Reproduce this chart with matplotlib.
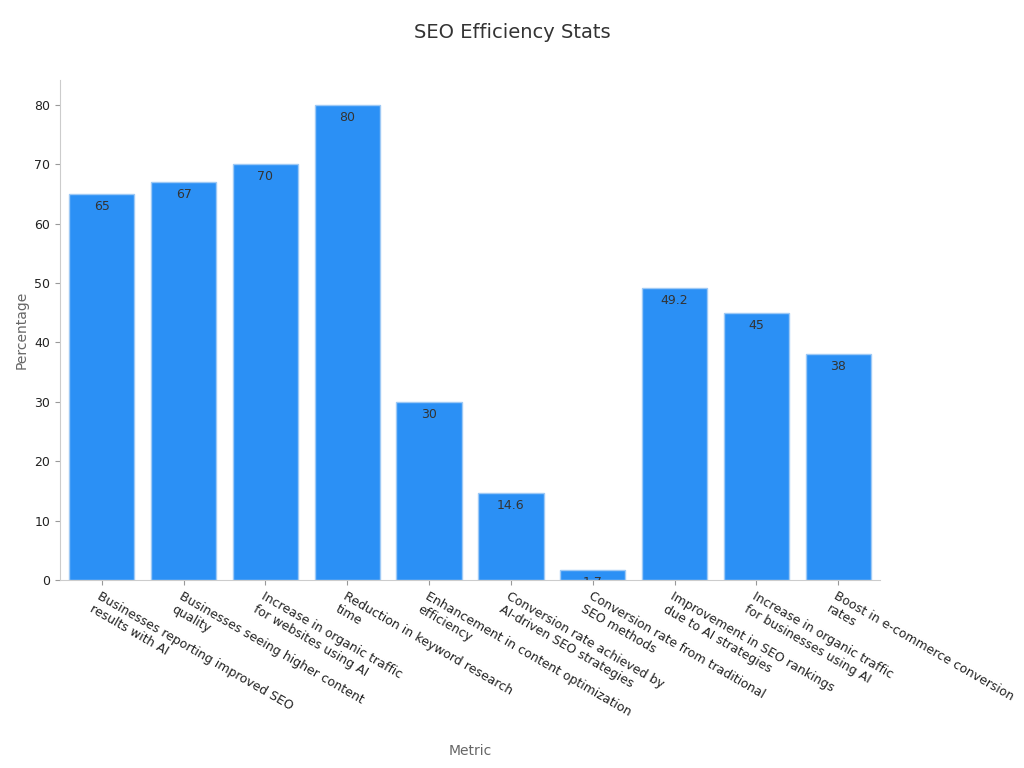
import matplotlib.pyplot as plt
import numpy as np

metrics = [
    "Businesses reporting improved SEO\nresults with AI",
    "Businesses seeing higher content\nquality",
    "Increase in organic traffic\nfor websites using AI",
    "Reduction in keyword research\ntime",
    "Enhancement in content optimization\nefficiency",
    "Conversion rate achieved by\nAI-driven SEO strategies",
    "Conversion rate from traditional\nSEO methods",
    "Improvement in SEO rankings\ndue to AI strategies",
    "Increase in organic traffic\nfor businesses using AI",
    "Boost in e-commerce conversion\nrates",
]
percentages = [65, 67, 70, 80, 30, 14.6, 1.7, 49.2, 45, 38]
value_labels = ["65", "67", "70", "80", "30", "14.6", "1.7", "49.2", "45", "38"]

fig = plt.figure(figsize=(10.24, 7.68), dpi=100)
ax = fig.add_axes([60 / 1024, 1 - 580 / 768, 820 / 1024, 500 / 768])

x = np.arange(len(metrics))
ax.bar(x, percentages, 0.8, color="#2b90f5", edgecolor="#9ec9f5", linewidth=1)
for xi, v, lab in zip(x, percentages, value_labels):
    ax.text(xi, v - 1.0, lab, ha="center", va="top", fontsize=9, color="#333333", clip_on=True)

ax.set_xlim(-0.51, 9.51)
ax.set_ylim(0, 84.2)
ax.set_yticks(range(0, 81, 10))
ax.set_xticks(x)
ax.set_xticklabels(metrics, rotation=-30, ha="left", rotation_mode="anchor", fontsize=9, color="#222222")
ax.tick_params(axis="y", labelsize=9, colors="#222222")
ax.tick_params(color="#999999")
for s in ["top", "right"]:
    ax.spines[s].set_visible(False)
for s in ["left", "bottom"]:
    ax.spines[s].set_color("#cccccc")

ax.set_ylabel("Percentage", fontsize=10, color="#666666")
fig.text(470 / 1024, 1 - 751 / 768, "Metric", ha="center", va="center", fontsize=10, color="#666666")
fig.text(512 / 1024, 1 - 33 / 768, "SEO Efficiency Stats", ha="center", va="center", fontsize=14, color="#333333")

fig.savefig("out.png", dpi=100)
